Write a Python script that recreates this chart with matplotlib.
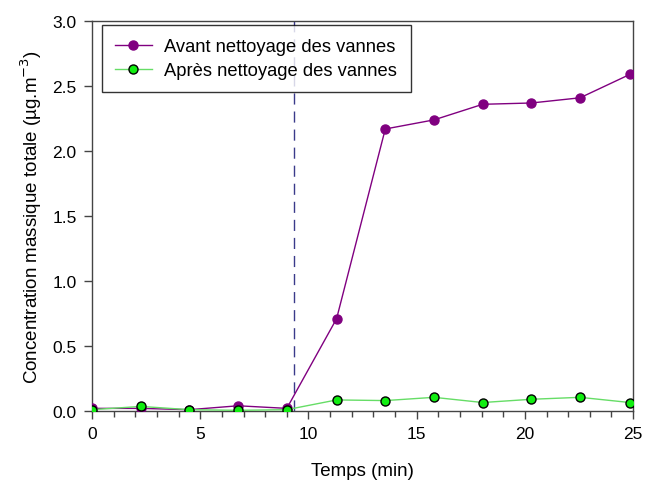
import numpy as np
import matplotlib
matplotlib.use('Agg')
import matplotlib.pyplot as plt
from matplotlib.ticker import MultipleLocator

plt.rcParams['font.family'] = ['Liberation Sans', 'DejaVu Sans']

# time points (min)
temps = [0, 2.25, 4.5, 6.75, 9.0, 11.3, 13.55, 15.8, 18.05, 20.3, 22.55, 24.85]
avant = [0.02, 0.02, 0.01, 0.04, 0.02, 0.71, 2.17, 2.24, 2.36, 2.37, 2.41, 2.59]
apres = [0.01, 0.035, 0.01, 0.005, 0.01, 0.085, 0.08, 0.105, 0.065, 0.09, 0.105, 0.065]
t_nettoyage = 9.35

label_avant = 'Avant nettoyage des vannes'
label_apres = 'Après nettoyage des vannes'

fig = plt.figure(figsize=(6.48, 4.81), dpi=100)
ax = fig.add_axes([0.142, 0.1435, 0.835, 0.8105])

ax.axvline(t_nettoyage, color='#3a3a8a', lw=1.0, ls=(0, (8, 5)), zorder=1)
ax.plot(temps, avant, color='#800080', lw=1.0, marker='o', ms=6.5,
        mfc='#800080', mec='#800080', label=label_avant, zorder=3)
ax.plot(temps, apres, color='#66dd66', lw=1.0, marker='o', ms=6.5,
        mfc='#11ee11', mec='black', mew=1.0, label=label_apres, zorder=4)

ax.set_xlim(0, 25)
ax.set_ylim(0, 3.0)
ax.xaxis.set_major_locator(MultipleLocator(5))
ax.xaxis.set_minor_locator(MultipleLocator(1))
ax.yaxis.set_major_locator(MultipleLocator(0.5))
ax.yaxis.set_major_formatter(matplotlib.ticker.FormatStrFormatter('%.1f'))

for s in ax.spines.values():
    s.set_color('#444444')
    s.set_linewidth(1.0)
ax.tick_params(which='major', direction='out', length=6, width=1.0,
               color='#444444', labelsize=12.5, pad=5)
ax.tick_params(which='minor', direction='out', length=4, width=1.0,
               color='#444444')

ax.set_xlabel('Temps (min)', fontsize=13.5, labelpad=15)
ax.set_ylabel('Concentration massique totale (µg.m$^{-3}$)', fontsize=13.5, labelpad=6)

leg = ax.legend(loc='upper left', bbox_to_anchor=(0.018, 0.99), borderaxespad=0,
                fontsize=13.2, frameon=True, fancybox=False, edgecolor='black',
                handlelength=2.0, borderpad=0.72, labelspacing=0.38,
                handletextpad=0.7)
leg.get_frame().set_linewidth(1.0)

fig.savefig('out.png', dpi=100)
